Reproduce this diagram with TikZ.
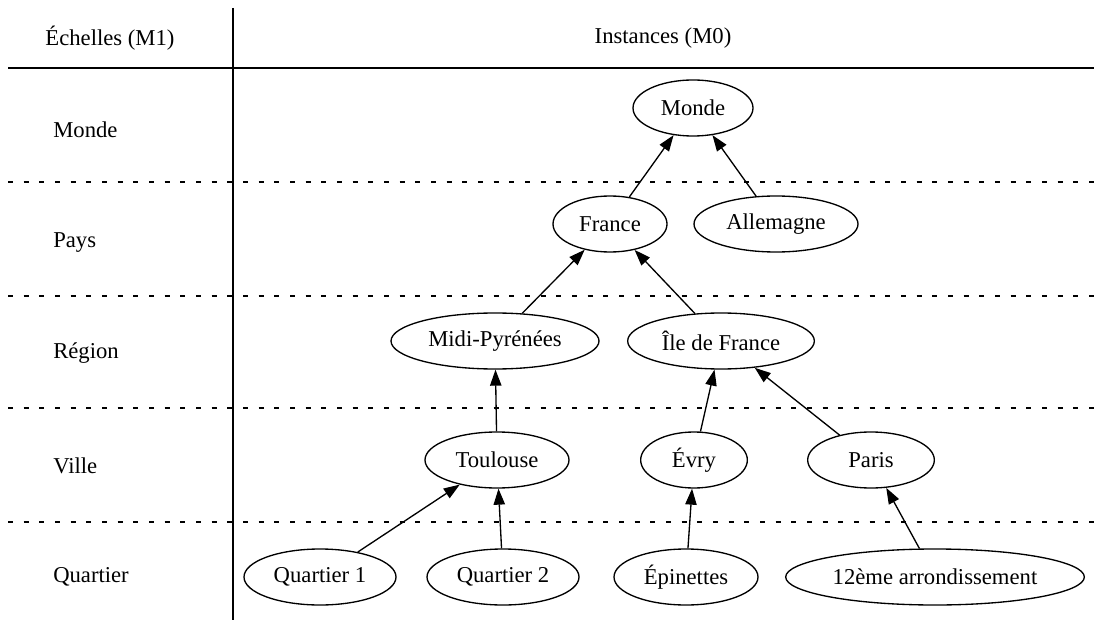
\documentclass[tikz,border=0pt]{standalone}
\usepackage{fontspec}
\setmainfont{Liberation Serif}
\usetikzlibrary{arrows.meta,shapes.geometric}
\begin{document}
\begin{tikzpicture}[x=0.75pt,y=-0.75pt,
  every node/.style={font=\fontsize{17}{20}\selectfont},
  ell/.style={ellipse,draw,line width=1pt,inner sep=0pt,minimum height=42pt},
  edge/.style={line width=1pt,-{Triangle[length=12pt,width=8.5pt]}},
  sep/.style={line width=0.9pt,dash pattern=on 3.75pt off 8pt},
  rule/.style={line width=0.9pt},
  lab/.style={anchor=west,inner sep=0pt}]
\useasboundingbox (0,0) rectangle (1094,623);
% grid lines
\coordinate (vt) at (233,8);
\coordinate (vb) at (233,620);
\draw[rule] (vt) -- (vb);
\coordinate (h0a) at (8,68); \coordinate (h0b) at (1094,68);
\draw[rule] (h0a) -- (h0b);
\foreach \y/\n in {182/1,296/2,408/3,522/4}{
  \coordinate (d\n a) at (8,\y); \coordinate (d\n b) at (1094,\y);
  \draw[sep] (d\n a) -- (d\n b);
}
% headers
\node (hM1) at (110,38) {Échelles (M1)};
\node (hM0) at (663,38) {Instances (M0)};
% row labels
\node[lab] (lMonde) at (53,130) {Monde};
\node[lab] (lPays) at (53,243) {Pays};
\node[lab] (lRegion) at (53,353) {Région};
\node[lab] (lVille) at (53,466) {Ville};
\node[lab] (lQuartier) at (53,577) {Quartier};
% nodes
\node[ell,minimum width=90pt] (monde) at (693,108) {Monde};
\node[ell,minimum width=85.5pt] (france) at (610,224) {France};
\node[ell,minimum width=123pt] (allemagne) at (776,224) {Allemagne};
\node[ell,minimum width=156pt] (midi) at (495,341) {Midi-Pyrénées};
\node[ell,minimum width=140pt] (ile) at (721,341) {Île de France};
\node[ell,minimum width=108pt] (toulouse) at (497,460) {Toulouse};
\node[ell,minimum width=80pt] (evry) at (694,460) {Évry};
\node[ell,minimum width=95pt] (paris) at (871,460) {Paris};
\node[ell,minimum width=114pt] (q1) at (320,577) {Quartier 1};
\node[ell,minimum width=114pt] (q2) at (503,577) {Quartier 2};
\node[ell,minimum width=108pt] (epinettes) at (686,577) {Épinettes};
\node[ell,minimum width=224pt] (arr12) at (935,577) {12ème arrondissement};
% edges
\draw[edge] (france) -- (monde);
\draw[edge] (allemagne) -- (monde);
\draw[edge] (midi) -- (france);
\draw[edge] (ile) -- (france);
\draw[edge] (toulouse) -- (midi);
\draw[edge] (evry) -- (ile);
\draw[edge] (paris) -- (ile);
\draw[edge] (q1) -- (toulouse);
\draw[edge] (q2) -- (toulouse);
\draw[edge] (epinettes) -- (evry);
\draw[edge] (arr12) -- (paris);
\end{tikzpicture}
\end{document}
